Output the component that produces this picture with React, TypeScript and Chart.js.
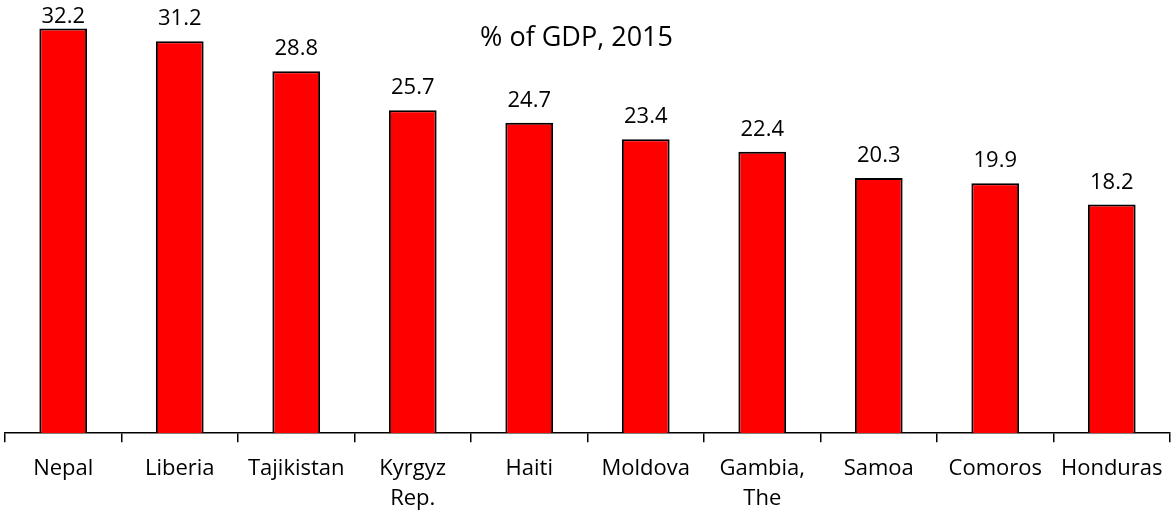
import React, { useEffect, useRef } from "react";
import { Chart, registerables } from "chart.js";

Chart.register(...registerables);

const categories: (string | string[])[] = [
  "Nepal",
  "Liberia",
  "Tajikistan",
  ["Kyrgyz", "Rep."],
  "Haiti",
  "Moldova",
  ["Gambia,", "The"],
  "Samoa",
  "Comoros",
  "Honduras",
];
const values: number[] = [32.2, 31.2, 28.8, 25.7, 24.7, 23.4, 22.4, 20.3, 19.9, 18.2];
const chartTitle = "% of GDP, 2015";

const FONT = "'Open Sans', 'DejaVu Sans', sans-serif";

const labelPlugin = {
  id: "barLabels",
  afterDatasetsDraw(chart: any) {
    const ctx = chart.ctx;
    const meta = chart.getDatasetMeta(0);
    ctx.save();
    ctx.fillStyle = "#000";
    ctx.font = `22px ${FONT}`;
    ctx.textAlign = "center";
    ctx.textBaseline = "alphabetic";
    meta.data.forEach((bar: any, i: number) => {
      const y = Math.max(bar.y - 16, 23);
      ctx.fillText(values[i].toFixed(1), bar.x, y);
    });
    ctx.restore();
  },
};

const titlePlugin = {
  id: "innerTitle",
  afterDraw(chart: any) {
    const ctx = chart.ctx;
    const area = chart.chartArea;
    ctx.save();
    ctx.fillStyle = "#000";
    ctx.font = `27px ${FONT}`;
    ctx.textAlign = "center";
    ctx.textBaseline = "alphabetic";
    ctx.fillText(chartTitle, (area.left + area.right) / 2 - 11, 46);
    ctx.restore();
  },
};

export default function App() {
  const ref = useRef<HTMLCanvasElement | null>(null);
  useEffect(() => {
    if (!ref.current) return;
    const chart = new Chart(ref.current, {
      type: "bar",
      data: {
        labels: categories,
        datasets: [
          {
            data: values,
            backgroundColor: "#FF0000",
            borderColor: "#000000",
            borderWidth: 2,
            categoryPercentage: 1,
            barPercentage: 0.41,
          },
        ],
      },
      options: {
        responsive: false,
        animation: false,
        devicePixelRatio: 1,
        layout: { padding: { left: 5, right: 1, top: 6, bottom: -11 } },
        plugins: {
          legend: { display: false },
          title: { display: false },
          tooltip: { enabled: false },
        },
        scales: {
          x: {
            offset: true,
            afterFit: (scale: any) => {
              scale.paddingRight = 0;
              scale.paddingLeft = 0;
            },
            grid: {
              display: true,
              offset: true,
              drawOnChartArea: false,
              drawTicks: true,
              tickLength: 9,
              color: "#000",
              lineWidth: 1.5,
            },
            border: { display: true, color: "#000", width: 1.5 },
            ticks: {
              color: "#000",
              font: { family: FONT, size: 22, lineHeight: 1.36 },
              padding: 12,
              maxRotation: 0,
              autoSkip: false,
            },
          },
          y: {
            display: false,
            min: 0,
            max: 34,
          },
        },
      },
      plugins: [labelPlugin, titlePlugin],
    });
    return () => chart.destroy();
  }, []);
  return (
    <div style={{ position: "fixed", left: 0, top: 0, width: 1171, height: 515, background: "#fff" }}>
      <canvas ref={ref} width={1171} height={515} style={{ width: 1171, height: 515 }} />
    </div>
  );
}
